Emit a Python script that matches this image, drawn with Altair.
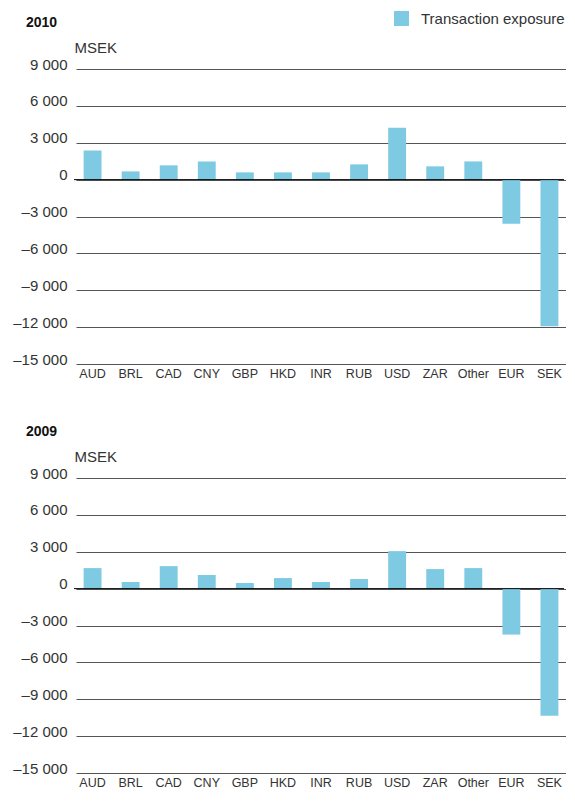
import altair as alt
import pandas as pd

currencies = ["AUD", "BRL", "CAD", "CNY", "GBP", "HKD", "INR", "RUB", "USD", "ZAR", "Other", "EUR", "SEK"]
values_2010 = [2370, 670, 1160, 1480, 590, 590, 590, 1240, 4230, 1080, 1480, -3590, -11920]
values_2009 = [1670, 540, 1830, 1100, 460, 860, 540, 780, 3050, 1590, 1670, -3740, -10340]
y_ticks = [9000, 6000, 3000, 0, -3000, -6000, -9000, -12000, -15000]
series_name = "Transaction exposure"

FONT = "Liberation Sans"
BAR = "#7fcae3"
TXT = "#333333"
W = 490
H = 295


def y_enc():
    return alt.Y(
        "value:Q",
        title="MSEK",
        scale=alt.Scale(domain=[-15000, 9000], nice=False, zero=False),
        axis=alt.Axis(
            values=y_ticks,
            labelExpr="(datum.value < 0 ? '\u2013' : '') + replace(format(abs(datum.value), ','), ',', ' ')",
            labelOverlap=False,
            titleAngle=0, titleX=-2, titleY=-17, titleAlign="left",
            titleBaseline="alphabetic", titleFontSize=15, titleFontWeight="normal",
            titleColor=TXT, titleFont=FONT,
            domain=False, ticks=False, grid=True, gridColor="#555555", gridWidth=1,
            labelPadding=9, labelBaseline="alphabetic", labelFontSize=15,
            labelColor=TXT, labelFont=FONT,
        ),
    )


def panel(year, vals):
    df = pd.DataFrame({"currency": currencies, "value": vals, "series": series_name})
    bars = alt.Chart(df).mark_bar().encode(
        x=alt.X(
            "currency:N",
            sort=currencies,
            title=None,
            scale=alt.Scale(paddingInner=0.53, paddingOuter=0.2),
            axis=alt.Axis(labelAngle=0, domain=False, ticks=False, labelPadding=3,
                          labelFontSize=12.5, labelColor=TXT, labelFont=FONT, grid=False),
        ),
        y=y_enc(),
        color=alt.Color(
            "series:N",
            scale=alt.Scale(range=[BAR]),
            legend=alt.Legend(title=None, orient="none", legendX=318, legendY=-58, padding=0,
                              symbolType="square", symbolSize=225, symbolStrokeWidth=0,
                              labelOffset=12, labelFontSize=15, labelColor=TXT, labelFont=FONT),
        ),
    )
    zero = alt.Chart(pd.DataFrame({"value": [0]})).mark_rule(color="black", strokeWidth=1).encode(
        y=y_enc(), x=alt.value(-2), x2=alt.value(W - 2)
    )
    title = alt.Chart(pd.DataFrame({"t": [year]})).mark_text(
        align="left", baseline="alphabetic", fontWeight="bold", fontSize=14,
        font=FONT, color="#111111"
    ).encode(x=alt.value(-50), y=alt.value(-42), text="t:N")
    return alt.layer(bars, zero, title).properties(width=W, height=H)


chart = alt.vconcat(panel("2010", values_2010), panel("2009", values_2009),
                    spacing=114, bounds="flush").configure(
    padding={"left": 4, "top": 3, "right": 0, "bottom": 0}
).configure_view(stroke=None)

chart.save("out.html", embed_options={"renderer": "svg", "actions": False})
